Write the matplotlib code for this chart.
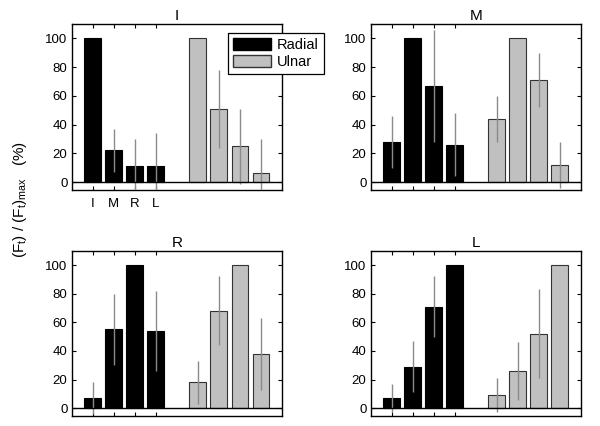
import matplotlib
matplotlib.use("Agg")
import matplotlib.pyplot as plt
from matplotlib.patches import Patch
import numpy as np

# one panel per fixed digit; each panel: 4 radial + 4 ulnar bars (% of max)
PANELS = ["I", "M", "R", "L"]
FINGERS = ["I", "M", "R", "L"]

radial_vals = {
    "I": [100, 22, 11, 11],
    "M": [28, 100, 67, 26],
    "R": [7, 55, 100, 54],
    "L": [7, 29, 71, 100],
}
radial_err = {
    "I": [0, 15, 19, 23],
    "M": [18, 0, 39, 22],
    "R": [11, 25, 0, 28],
    "L": [10, 18, 21, 0],
}
ulnar_vals = {
    "I": [100, 51, 25, 6],
    "M": [44, 100, 71, 12],
    "R": [18, 68, 100, 38],
    "L": [9, 26, 52, 100],
}
ulnar_err = {
    "I": [0, 27, 26, 24],
    "M": [16, 0, 19, 16],
    "R": [15, 24, 0, 25],
    "L": [12, 20, 31, 0],
}

RADIAL_COLOR = "black"
ULNAR_COLOR = "#c0c0c0"
ERR_COLOR = "#8a8a8a"

plt.rcParams.update({
    "font.family": ["Liberation Sans", "DejaVu Sans"],
    "font.size": 9,
    "mathtext.default": "regular",
})

fig = plt.figure(figsize=(6.0, 4.26), dpi=100)

W, H = 600.0, 426.0
boxes = {
    "I": (71.7, 24, 282, 190),
    "M": (370.7, 24, 580.7, 190),
    "R": (71.7, 250.7, 282, 416),
    "L": (370.7, 250.7, 580.7, 416),
}

x_rad = np.arange(1, 5)
x_uln = np.arange(6, 10)

for name in PANELS:
    x0, y0, x1, y1 = boxes[name]
    ax = fig.add_axes([x0 / W, 1 - y1 / H, (x1 - x0) / W, (y1 - y0) / H])

    ax.bar(x_rad, radial_vals[name], width=0.8, color=RADIAL_COLOR,
           edgecolor="black", linewidth=0.8, zorder=2)
    ax.bar(x_uln, ulnar_vals[name], width=0.8, color=ULNAR_COLOR,
           edgecolor="#333333", linewidth=0.8, zorder=2)
    ax.errorbar(x_rad, radial_vals[name], yerr=radial_err[name], fmt="none",
                ecolor=ERR_COLOR, elinewidth=1.0, capsize=0, zorder=3)
    ax.errorbar(x_uln, ulnar_vals[name], yerr=ulnar_err[name], fmt="none",
                ecolor=ERR_COLOR, elinewidth=1.0, capsize=0, zorder=3)

    ax.axhline(0, color="black", linewidth=1.0, zorder=4)
    ax.set_xlim(0, 10)
    ax.set_ylim(-5.5, 110)
    ax.set_yticks([0, 20, 40, 60, 80, 100])
    ax.set_xticks(x_rad)
    if name == "I":
        ax.set_xticklabels(FINGERS, fontsize=9.5)
    else:
        ax.set_xticklabels([])
    ax.tick_params(direction="in", top=True, right=True, length=3,
                   width=0.8, labelsize=9.5, pad=3)
    ax.tick_params(axis="x", pad=6)
    for sp in ax.spines.values():
        sp.set_linewidth(1.0)
    ax.set_title(name, fontsize=11, pad=3)

fig.text(20 / W, 1 - 200 / H, r"(F$_t$) / (F$_t$)$_{max}$   (%)",
         rotation=90, ha="center", va="center", fontsize=11)

handles = [Patch(facecolor=RADIAL_COLOR, edgecolor="black", label="Radial"),
           Patch(facecolor=ULNAR_COLOR, edgecolor="#333333", label="Ulnar")]
leg = fig.legend(handles=handles, loc="upper left",
                 bbox_to_anchor=(228 / W, 1 - 33 / H), fontsize=10.5,
                 frameon=True, fancybox=False, framealpha=1,
                 edgecolor="black", borderpad=0.35, labelspacing=0.2,
                 handlelength=2.6, handleheight=0.9, handletextpad=0.4,
                 borderaxespad=0)
leg.get_frame().set_linewidth(0.9)

fig.savefig("out.png", dpi=100, facecolor="white")
